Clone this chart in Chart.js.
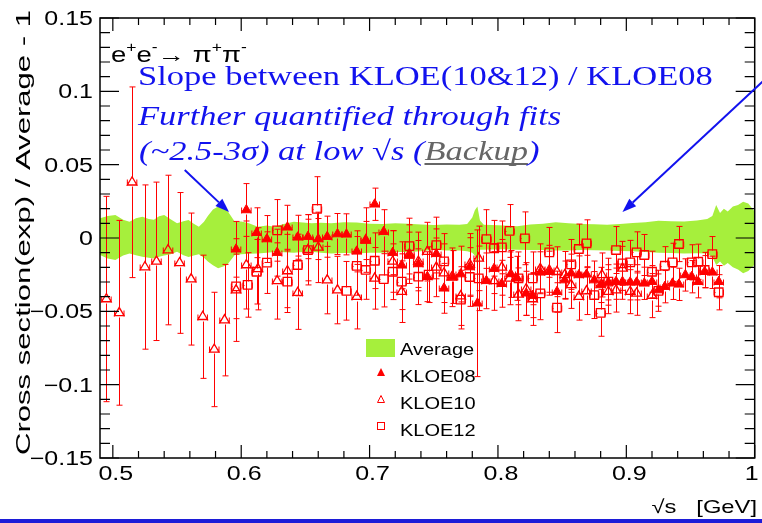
<!DOCTYPE html>
<html>
<head>
<meta charset="utf-8">
<script src="https://cdn.jsdelivr.net/npm/chart.js@4.4.1/dist/chart.umd.min.js"></script>
<style>
  html, body { margin: 0; padding: 0; background: #fff; }
  #wrap { width: 762px; height: 523px; }
</style>
</head>
<body>
<div id="wrap"><canvas id="myChart" width="762" height="523"></canvas></div>
<script>
// ---- data ----
var xTicks = [0.5, 0.6, 0.7, 0.8, 0.9, 1.0];
var yTicks = [-0.15, -0.1, -0.05, 0, 0.05, 0.1, 0.15];
var xLabels = ["0.5", "0.6", "0.7", "0.8", "0.9", "1"];
var yLabels = ["\u22120.15", "\u22120.1", "\u22120.05", "0", "0.05", "0.1", "0.15"];

var xErr = 0.0037; // half bin width

var kloe08X = [0.596,0.604,0.612,0.620,0.628,0.636,0.644,0.652,0.660,0.667,0.675,0.682,0.690,0.697,0.704,0.711,0.718,0.725,0.731,0.738,0.745,0.752,0.758,0.765,0.771,0.778,0.784,0.791,0.797,0.803,0.810,0.815,0.822,0.827,0.833,0.840,0.846,0.852,0.857,0.863,0.869,0.875,0.880,0.886,0.892,0.897,0.903,0.908,0.914,0.920,0.925,0.930,0.936,0.941,0.946,0.951,0.956,0.961,0.967,0.972];
var kloe08Y = [-0.0077,0.0191,0.0036,-0.0007,-0.010,0.0073,0.0005,0.0009,-0.0007,0.0009,0.0027,0.0025,-0.0091,-0.0017,0.023,0.0043,-0.010,-0.0186,-0.012,-0.0177,-0.0264,-0.0108,-0.0343,-0.0266,-0.0246,-0.0198,-0.0445,-0.0292,-0.0209,-0.0312,-0.0245,-0.0275,-0.0377,-0.0393,-0.0234,-0.023,-0.0366,-0.0287,-0.024,-0.0252,-0.0248,-0.0287,-0.032,-0.0302,-0.0298,-0.0298,-0.0302,-0.0302,-0.0309,-0.0298,-0.0355,-0.0332,-0.0309,-0.0316,-0.0252,-0.0264,-0.0298,-0.023,-0.0234,-0.0298];
var kloe08Err = [0.019,0.018,0.017,0.016,0.016,0.015,0.015,0.015,0.014,0.014,0.014,0.014,0.014,0.013,0.011,0.015,0.015,0.016,0.016,0.016,0.017,0.017,0.017,0.018,0.019,0.02,0.05,0.019,0.017,0.016,0.016,0.015,0.015,0.015,0.014,0.014,0.014,0.013,0.013,0.013,0.013,0.013,0.012,0.012,0.012,0.012,0.012,0.012,0.011,0.011,0.011,0.011,0.011,0.011,0.011,0.011,0.011,0.011,0.011,0.011];

var kloe10X = [0.495,0.505,0.515,0.525,0.534,0.543,0.552,0.561,0.570,0.579,0.587,0.596,0.604,0.613,0.628,0.636,0.644,0.652,0.660,0.667,0.675,0.690,0.697,0.704,0.718,0.725,0.731,0.738,0.745,0.752,0.758,0.764,0.771,0.778,0.785,0.797,0.803,0.809,0.816,0.822,0.827,0.833,0.840,0.846,0.852,0.857,0.863,0.869,0.881,0.886,0.892,0.897,0.903,0.908,0.920];
var kloe10Y = [-0.0416,-0.051,0.038,-0.0198,-0.0159,-0.0082,-0.017,-0.028,-0.0537,-0.076,-0.056,-0.0355,-0.0184,-0.021,-0.0293,-0.0225,-0.0373,-0.008,-0.0064,-0.0287,-0.0355,-0.040,-0.0014,-0.0275,-0.016,-0.0366,-0.011,-0.016,-0.0093,-0.020,-0.024,-0.0268,-0.0396,-0.018,-0.0139,-0.0293,-0.020,-0.0275,-0.0384,-0.0348,-0.0416,-0.021,-0.022,-0.023,-0.0252,-0.032,-0.040,-0.0362,-0.0252,-0.0366,-0.0355,-0.0207,-0.0366,-0.0377,-0.0393];
var kloe10Err = [0.070,0.063,0.065,0.056,0.054,0.051,0.048,0.045,0.042,0.039,0.038,0.035,0.030,0.028,0.026,0.025,0.025,0.024,0.024,0.023,0.023,0.022,0.022,0.021,0.021,0.021,0.020,0.020,0.020,0.020,0.020,0.020,0.020,0.021,0.022,0.020,0.019,0.018,0.018,0.018,0.018,0.017,0.017,0.017,0.016,0.016,0.016,0.016,0.015,0.015,0.015,0.015,0.015,0.015,0.015];

var kloe12X = [0.596,0.605,0.612,0.620,0.628,0.636,0.644,0.652,0.659,0.682,0.690,0.697,0.704,0.711,0.718,0.725,0.731,0.738,0.746,0.752,0.758,0.771,0.778,0.785,0.791,0.797,0.803,0.809,0.816,0.821,0.827,0.833,0.840,0.846,0.857,0.863,0.869,0.875,0.880,0.886,0.892,0.897,0.903,0.908,0.914,0.920,0.925,0.930,0.936,0.941,0.951,0.956,0.961,0.967,0.972];
var kloe12Y = [-0.033,-0.032,-0.023,-0.0168,0.0052,-0.0298,-0.0184,-0.0082,0.0198,-0.036,-0.019,-0.0218,-0.0155,-0.028,-0.023,-0.0298,-0.0055,-0.0264,-0.025,-0.0048,-0.016,-0.042,-0.0266,-0.0275,-0.0007,-0.007,-0.0064,0.0048,-0.0275,-0.0002,-0.0275,-0.0377,-0.0098,-0.0475,-0.018,-0.0075,-0.0036,-0.0389,-0.051,-0.0298,-0.0082,-0.0173,-0.0166,-0.0098,-0.0116,-0.023,-0.036,-0.0189,-0.0166,-0.0041,-0.0166,-0.0162,-0.0218,-0.011,-0.037];
var kloe12Err = [0.022,0.022,0.022,0.021,0.021,0.021,0.021,0.021,0.022,0.02,0.02,0.02,0.019,0.019,0.019,0.019,0.019,0.019,0.019,0.019,0.019,0.02,0.02,0.022,0.02,0.019,0.018,0.018,0.018,0.018,0.018,0.018,0.017,0.017,0.017,0.017,0.016,0.016,0.016,0.016,0.016,0.015,0.015,0.014,0.014,0.014,0.014,0.013,0.013,0.012,0.012,0.012,0.012,0.012,0.012];

// average band (upper / lower edge)
var bandX = [0.490,0.496,0.502,0.508,0.513,0.518,0.523,0.528,0.532,0.536,0.540,0.545,0.550,0.555,0.559,0.563,0.567,0.571,0.574,0.578,0.582,0.586,0.589,0.592,0.595,0.600,0.606,0.613,0.620,0.626,0.633,0.641,0.648,0.655,0.662,0.670,0.680,0.690,0.700,0.710,0.720,0.730,0.740,0.750,0.760,0.770,0.776,0.780,0.782,0.784,0.786,0.789,0.795,0.805,0.815,0.825,0.835,0.845,0.855,0.865,0.875,0.885,0.895,0.905,0.915,0.925,0.935,0.945,0.955,0.963,0.967,0.970,0.973,0.976,0.979,0.983,0.987,0.991,0.995,1.000];
var bandUp = [0.0134,0.0150,0.0157,0.0125,0.0110,0.0135,0.0145,0.0130,0.0125,0.0148,0.0157,0.0128,0.0100,0.0115,0.0123,0.0098,0.0077,0.0110,0.0150,0.0195,0.0214,0.0205,0.0190,0.0150,0.0110,0.0112,0.0100,0.0077,0.0085,0.0077,0.0095,0.0110,0.0105,0.0100,0.0104,0.0100,0.0108,0.0105,0.0098,0.0095,0.0100,0.0098,0.0092,0.0089,0.0092,0.0090,0.0095,0.0140,0.0190,0.0214,0.0120,0.0090,0.0088,0.0086,0.0080,0.0092,0.0098,0.0107,0.0100,0.0095,0.0093,0.0090,0.0095,0.0103,0.0108,0.0118,0.0115,0.0112,0.0120,0.0130,0.0150,0.0225,0.0170,0.0200,0.0180,0.0215,0.0225,0.0248,0.0235,0.0180];
var bandDn = [-0.0116,-0.0140,-0.0150,-0.0120,-0.0105,-0.0118,-0.0127,-0.0135,-0.0139,-0.0128,-0.0120,-0.0110,-0.0093,-0.0118,-0.0130,-0.0120,-0.0110,-0.0135,-0.0160,-0.0185,-0.0207,-0.0195,-0.0184,-0.0150,-0.0116,-0.0110,-0.0108,-0.0105,-0.0100,-0.0095,-0.0098,-0.0100,-0.0095,-0.0093,-0.0100,-0.0105,-0.0102,-0.0105,-0.0100,-0.0100,-0.0096,-0.0095,-0.0090,-0.0080,-0.0085,-0.0085,-0.0090,-0.0100,-0.0120,-0.0184,-0.0080,-0.0080,-0.0078,-0.0076,-0.0080,-0.0082,-0.0082,-0.0085,-0.0085,-0.0082,-0.0084,-0.0085,-0.0088,-0.0090,-0.0095,-0.0100,-0.0102,-0.0105,-0.0104,-0.0106,-0.0130,-0.0184,-0.0160,-0.0190,-0.0170,-0.0200,-0.0215,-0.0240,-0.0225,-0.0180];

// arrows in data coordinates: [fromX, fromY, toX, toY]
var arrows = [[0.556, 0.0464, 0.5905, 0.0177], [1.02, 0.118, 0.897, 0.0177]];

var RED = "#ff0000";
var GREEN = "#a6ef3c";
var BLUE = "#1212ee";
var SX = 1.25; // horizontal stretch of the original text

function pts(xs, ys) {
    return xs.map(function (x, i) { return { x: x, y: ys[i] }; });
}

function stretchText(ctx, s, x, y, font, color, align) {
    ctx.save();
    ctx.font = font;
    ctx.fillStyle = color;
    ctx.textBaseline = "alphabetic";
    var w = ctx.measureText(s).width * SX;
    var x0 = align === "right" ? x - w : (align === "center" ? x - w / 2 : x);
    ctx.translate(x0, y);
    ctx.scale(SX, 1);
    ctx.fillText(s, 0, 0);
    ctx.restore();
    return w;
}

var errorBars = {
    id: "errorBars",
    beforeDatasetDraw: function (chart, args) {
        var ds = chart.data.datasets[args.index];
        if (!ds.errY) return;
        var xs = chart.scales.x, ys = chart.scales.y, a = chart.chartArea;
        var ctx = chart.ctx;
        var g = ds.gap;
        ctx.save();
        ctx.beginPath();
        ctx.rect(a.left, a.top, a.right - a.left, a.bottom - a.top);
        ctx.clip();
        ctx.strokeStyle = RED;
        ctx.lineWidth = 1;
        ctx.beginPath();
        ds.data.forEach(function (p, i) {
            var px = Math.round(xs.getPixelForValue(p.x)) + 0.5;
            var py = Math.round(ys.getPixelForValue(p.y)) + 0.5;
            var top = ys.getPixelForValue(p.y + ds.errY[i]);
            var bot = ys.getPixelForValue(p.y - ds.errY[i]);
            var l = xs.getPixelForValue(p.x - xErr);
            var r = xs.getPixelForValue(p.x + xErr);
            ctx.moveTo(px, top); ctx.lineTo(px, py - g);
            ctx.moveTo(px, py + g); ctx.lineTo(px, bot);
            ctx.moveTo(l, py); ctx.lineTo(px - g, py);
            ctx.moveTo(px + g, py); ctx.lineTo(r, py);
            ctx.moveTo(px - 3, top); ctx.lineTo(px + 3, top);
            ctx.moveTo(px - 3, bot); ctx.lineTo(px + 3, bot);
            ctx.moveTo(l, py - 3); ctx.lineTo(l, py + 3);
            ctx.moveTo(r, py - 3); ctx.lineTo(r, py + 3);
        });
        ctx.stroke();
        ctx.restore();
    }
};

function drawArrow(ctx, x1, y1, x2, y2) {
    var ang = Math.atan2(y2 - y1, x2 - x1);
    var hl = 14, hw = 5;
    var bx = x2 - hl * Math.cos(ang), by = y2 - hl * Math.sin(ang);
    ctx.beginPath();
    ctx.moveTo(x1, y1);
    ctx.lineTo(bx, by);
    ctx.stroke();
    ctx.beginPath();
    ctx.moveTo(x2, y2);
    ctx.lineTo(bx + hw * Math.sin(ang), by - hw * Math.cos(ang));
    ctx.lineTo(bx - hw * Math.sin(ang), by + hw * Math.cos(ang));
    ctx.closePath();
    ctx.fill();
}

var frameAndText = {
    id: "frameAndText",
    afterDraw: function (chart) {
        var ctx = chart.ctx, a = chart.chartArea;
        var xs = chart.scales.x, ys = chart.scales.y;
        ctx.save();

        // frame
        ctx.strokeStyle = "#000";
        ctx.lineWidth = 1.5;
        ctx.strokeRect(a.left, a.top, a.right - a.left, a.bottom - a.top);

        // ticks (inside the frame, ROOT style)
        ctx.lineWidth = 1.2;
        ctx.beginPath();
        var v, p, k;
        for (k = 0; k <= 30; k++) {
            v = -0.15 + k * 0.01;
            p = ys.getPixelForValue(v);
            var len = (k % 5 === 0) ? 19 : 10;
            ctx.moveTo(a.left, p); ctx.lineTo(a.left + len, p);
            ctx.moveTo(a.right, p); ctx.lineTo(a.right - len, p);
        }
        for (k = 0; k <= 25; k++) {
            v = 0.5 + k * 0.02;
            p = xs.getPixelForValue(v);
            var tl = (k % 5 === 0) ? 13 : 7;
            ctx.moveTo(p, a.bottom); ctx.lineTo(p, a.bottom - tl);
            ctx.moveTo(p, a.top); ctx.lineTo(p, a.top + tl);
        }
        ctx.stroke();

        // tick labels
        var lf = "20px 'Liberation Sans', Arial, sans-serif";
        yTicks.forEach(function (t, i) {
            stretchText(ctx, yLabels[i], 93, ys.getPixelForValue(t) + 7, lf, "#000", "right");
        });
        xTicks.forEach(function (t, i) {
            var px = xs.getPixelForValue(t);
            if (i === xTicks.length - 1) px -= 6;
            stretchText(ctx, xLabels[i], px + 3, a.bottom + 22, lf, "#000", "center");
        });

        // axis titles
        stretchText(ctx, "\u221As   [GeV]", 757, 513, "19px 'Liberation Sans', Arial, sans-serif", "#000", "right");
        ctx.save();
        ctx.font = "20px 'Liberation Sans', Arial, sans-serif";
        var title = "Cross section(exp) / Average - 1";
        var tw = ctx.measureText(title).width;
        ctx.translate(30, 10);
        ctx.rotate(-Math.PI / 2);
        ctx.scale(445 / tw, 1.02);
        ctx.fillStyle = "#000";
        ctx.textAlign = "right";
        ctx.fillText(title, 0, 0);
        ctx.restore();

        // process label
        var pf = "22px 'Liberation Sans', Arial, sans-serif";
        var sf = "14px 'Liberation Sans', Arial, sans-serif";
        var x = 111;
        x += stretchText(ctx, "e", x, 62, pf, "#000");
        x += stretchText(ctx, "+", x, 52, sf, "#000");
        x += stretchText(ctx, "e", x, 62, pf, "#000");
        x += stretchText(ctx, "-", x, 52, sf, "#000");
        x += stretchText(ctx, "\u2192 ", x, 62, pf, "#000");
        x += stretchText(ctx, "\u03C0", x, 62, pf, "#000");
        x += stretchText(ctx, "+", x, 52, sf, "#000");
        x += stretchText(ctx, "\u03C0", x, 62, pf, "#000");
        stretchText(ctx, "-", x, 52, sf, "#000");

        // annotation
        var nf = "27.6px 'Liberation Serif', 'Times New Roman', serif";
        var itf = "italic 27.6px 'Liberation Serif', 'Times New Roman', serif";
        stretchText(ctx, "Slope between KLOE(10&12) / KLOE08", 138, 85, nf, BLUE);
        stretchText(ctx, "Further quantified through fits", 138, 125, itf, BLUE);
        var bx = 139;
        bx += stretchText(ctx, "(~2.5-3\u03C3) at low \u221As (", bx, 160, itf, BLUE);
        var bw = stretchText(ctx, "Backup", bx, 160, itf, "#666");
        ctx.fillStyle = "#666";
        ctx.fillRect(bx, 163, bw, 2);
        stretchText(ctx, ")", bx + bw, 160, itf, BLUE);

        // arrows
        ctx.strokeStyle = BLUE;
        ctx.fillStyle = BLUE;
        ctx.lineWidth = 2;
        arrows.forEach(function (ar) {
            drawArrow(ctx, xs.getPixelForValue(ar[0]), ys.getPixelForValue(ar[1]),
                xs.getPixelForValue(ar[2]), ys.getPixelForValue(ar[3]));
        });

        // legend
        var lgf = "16px 'Liberation Sans', Arial, sans-serif";
        ctx.fillStyle = GREEN;
        ctx.fillRect(366, 339, 29, 18);
        stretchText(ctx, "Average", 400, 355, lgf, "#000");
        ctx.fillStyle = RED;
        ctx.strokeStyle = RED;
        ctx.lineWidth = 1;
        ctx.beginPath();
        ctx.moveTo(381, 368); ctx.lineTo(385, 376); ctx.lineTo(377, 376); ctx.closePath();
        ctx.fill();
        stretchText(ctx, "KLOE08", 400, 382, lgf, "#000");
        ctx.beginPath();
        ctx.moveTo(381, 395.5); ctx.lineTo(384.5, 402.5); ctx.lineTo(377.5, 402.5); ctx.closePath();
        ctx.stroke();
        stretchText(ctx, "KLOE10", 400, 409, lgf, "#000");
        ctx.strokeRect(377.5, 422.5, 7, 7);
        stretchText(ctx, "KLOE12", 400, 436, lgf, "#000");

        // slide rule at the bottom
        ctx.fillStyle = "#1c1cd8";
        ctx.fillRect(0, 519, 762, 4);
        ctx.restore();
    }
};

var ctx = document.getElementById("myChart").getContext("2d");
var myChart = new Chart(ctx, {
    data: {
        datasets: [
            {
                type: "scatter", label: "KLOE08", data: pts(kloe08X, kloe08Y), errY: kloe08Err, gap: 4,
                pointStyle: "triangle", pointRadius: 5.5, backgroundColor: RED, borderColor: RED, borderWidth: 1, order: 1
            },
            {
                type: "scatter", label: "KLOE10", data: pts(kloe10X, kloe10Y), errY: kloe10Err, gap: 4,
                pointStyle: "triangle", pointRadius: 5.5, backgroundColor: "rgba(0,0,0,0)", borderColor: RED, borderWidth: 1.3, order: 3
            },
            {
                type: "scatter", label: "KLOE12", data: pts(kloe12X, kloe12Y), errY: kloe12Err, gap: 4,
                pointStyle: "rect", pointRadius: 6, backgroundColor: "rgba(0,0,0,0)", borderColor: RED, borderWidth: 1.3, order: 2
            },
            {
                type: "line", label: "Average", data: pts(bandX, bandUp), fill: "+1",
                backgroundColor: GREEN, borderColor: GREEN, borderWidth: 0, pointRadius: 0, tension: 0, order: 10
            },
            {
                type: "line", label: "band low", data: pts(bandX, bandDn), fill: false,
                backgroundColor: GREEN, borderColor: GREEN, borderWidth: 0, pointRadius: 0, tension: 0, order: 11
            }
        ]
    },
    options: {
        responsive: false,
        animation: false,
        devicePixelRatio: 1,
        layout: { padding: { left: 0, top: 18, right: 4, bottom: 0 } },
        plugins: { legend: { display: false }, tooltip: { enabled: false } },
        scales: {
            x: {
                type: "linear", min: 0.49, max: 1.0,
                grid: { display: false }, border: { display: false },
                ticks: { display: false },
                afterFit: function (s) { s.height = 65; }
            },
            y: {
                type: "linear", min: -0.15, max: 0.15,
                grid: { display: false }, border: { display: false },
                ticks: { display: false },
                afterFit: function (s) { s.width = 100; }
            }
        }
    },
    plugins: [errorBars, frameAndText]
});
</script>
</body>
</html>
